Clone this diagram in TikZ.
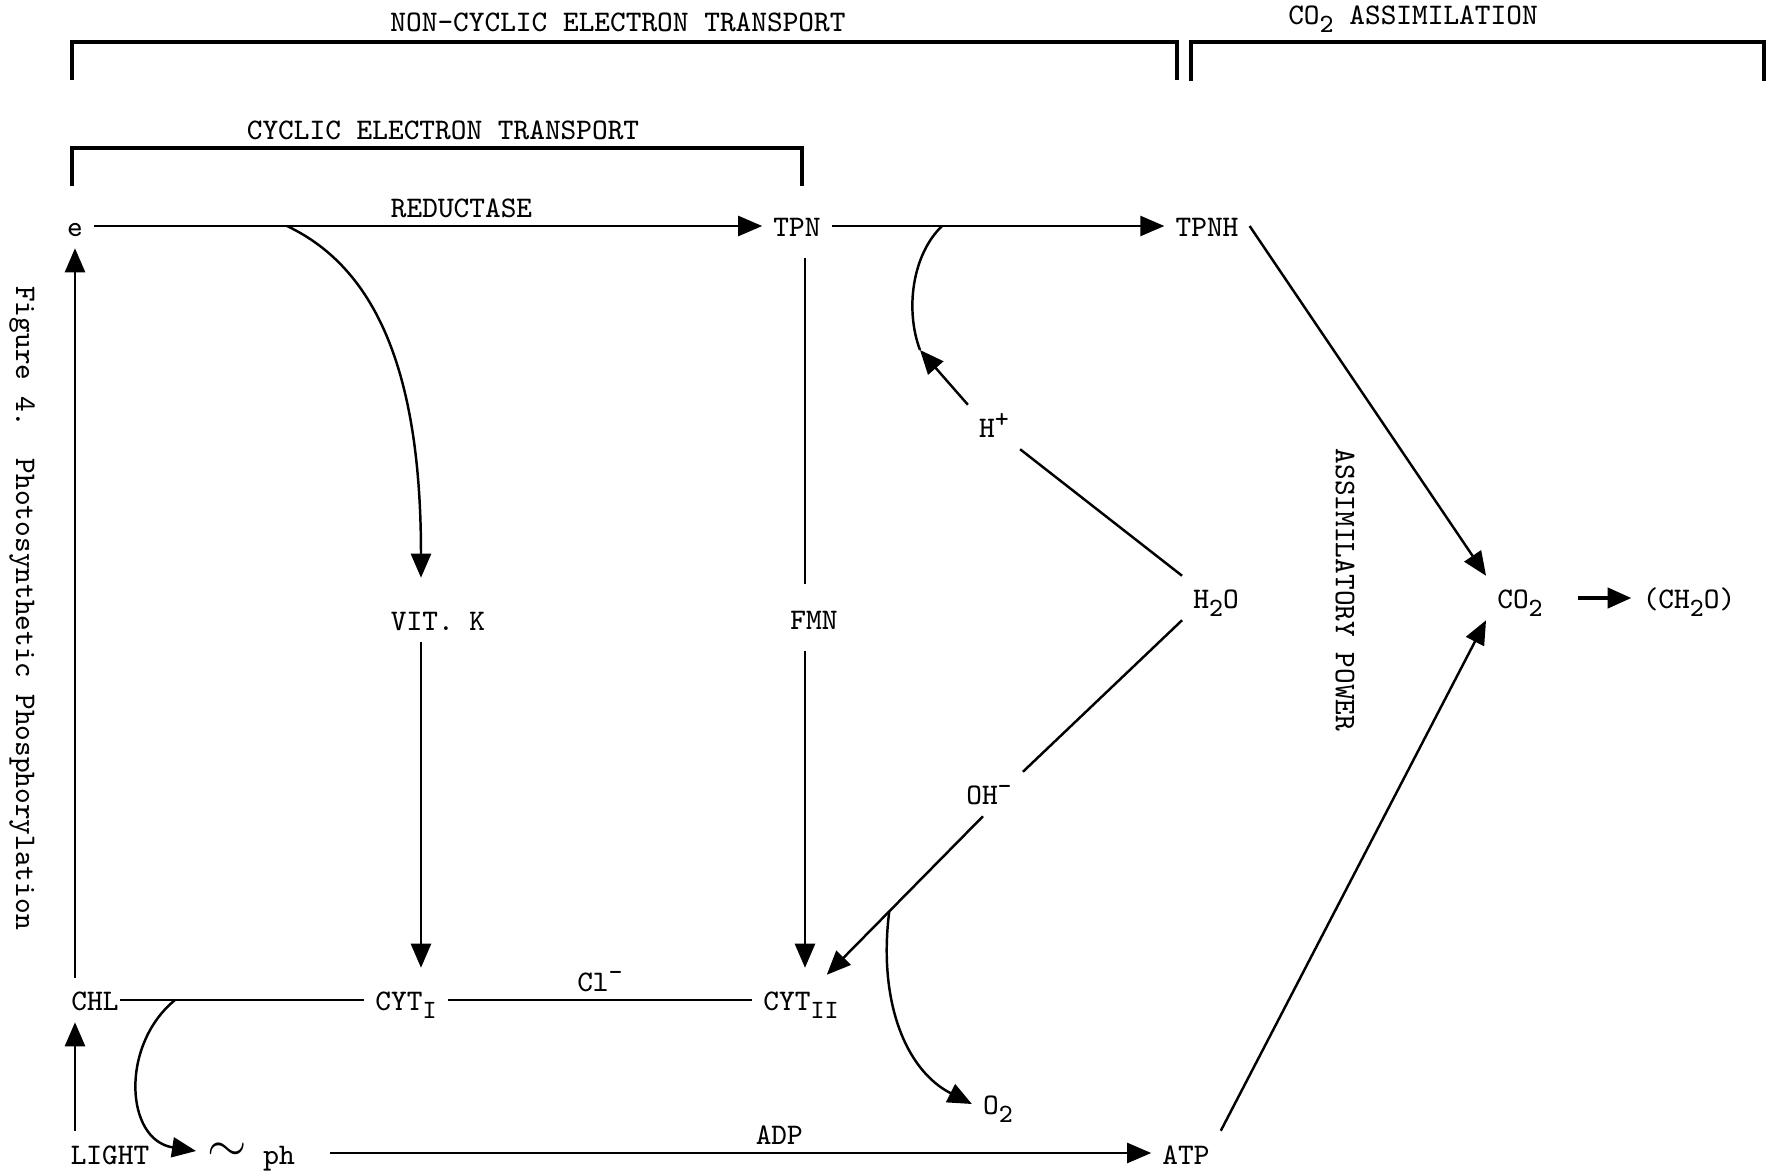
\documentclass[tikz,border=0pt]{standalone}
\usetikzlibrary{positioning, arrows.meta, calc}
\newcommand{\subx}[1]{\raisebox{-0.6ex}{\fontsize{7.5}{8}\selectfont#1}}
\newcommand{\supx}[1]{\raisebox{0.85ex}{\fontsize{7.5}{8}\selectfont#1}}

\begin{document}
\begin{tikzpicture}[
    x=0.01cm, y=-0.01cm,
    font=\ttfamily\fontsize{8.5}{10}\selectfont,
    chem/.style={inner sep=3pt, text height=1.45ex, text depth=0pt},
    note/.style={inner sep=2pt},
    arr/.style={-{Triangle[length=2.4mm, width=2mm]}, line width=0.7pt},
    link/.style={line width=0.7pt},
    bracket/.style={line width=0.9pt}
  ]
  \useasboundingbox (0,0) rectangle (1768,1175);
  % Brackets
  \draw[bracket] (72,80) -- (72,42) -- (1177,42) -- (1177,80);
  \draw[bracket] (1191,81) -- (1191,42) -- (1764,42) -- (1764,81);
  \draw[bracket] (72,186) -- (72,148) -- (802,148) -- (802,186);
  \node[note] (ncet) at (618,22) {NON-CYCLIC ELECTRON TRANSPORT};
  \node[note] (co2as) at (1413,19) {CO\subx{2} ASSIMILATION};
  \node[note] (cet) at (443,130) {CYCLIC ELECTRON TRANSPORT};
  % Side texts
  \node[note, rotate=-90] (apow) at (1345,590) {ASSIMILATORY POWER};
  \node[note, rotate=-90] (caption) at (22,608) {Figure 4.\ \ Photosynthetic Phosphorylation};
  % Substances
  \node[chem] (e) at (75,226) {e};
  \node[chem] (tpn) at (797,226) {TPN};
  \node[chem] (tpnh) at (1207,226) {TPNH};
  \node[chem] (vitk) at (438,620) {VIT. K};
  \node[chem] (fmn) at (814,619) {FMN};
  \node[chem] (hplus) at (994,427) {H\supx{+}};
  \node[chem] (water) at (1216,598) {H\subx{2}O};
  \node[chem] (oh) at (989,794) {OH\supx{-}};
  \node[chem] (co2) at (1520,598) {CO\subx{2}};
  \node[chem] (ch2o) at (1689,598) {(CH\subx{2}O)};
  \node[chem] (chl) at (95,1000) {CHL};
  \node[chem] (cyti) at (406,1000) {CYT\subx{I}};
  \node[chem] (cytii) at (801,1000) {CYT\subx{II}};
  \node[chem] (otwo) at (998,1104) {O\subx{2}};
  \node[chem] (light) at (110,1153) {LIGHT};
  \node[chem] (tilde) at (227,1151) {\Large$\sim$};
  \node[chem] (ph) at (279,1153) {ph};
  \node[chem] (atp) at (1186,1153) {ATP};
  % Upper line
  \draw[arr] (e) -- node[note, above, pos=0.55] (redu) {REDUCTASE} (tpn);
  \draw[arr] (tpn) -- (tpnh);
  \coordinate (jred) at (287,226);
  \coordinate (kx) at ([xshift=-1.7mm]vitk.south);
  \draw[arr, shorten >=2mm] (jred) .. controls (380,270) and (421,380) .. (kx |- vitk.north);
  \draw[arr, shorten >=1mm] (kx) -- (kx |- cyti.north);
  % TPN - FMN - CYT II
  \coordinate (fx) at ([xshift=-0.9mm]fmn.north);
  \draw[link, shorten <=1mm, shorten >=1.3mm] (fx |- tpn.south) -- (fx);
  \draw[arr, shorten <=1mm, shorten >=1mm] (fx |- fmn.south) -- (fx |- cytii.north);
  % Water splitting
  \coordinate (htip) at (920,350);
  \coordinate (jh) at (942,226);
  \draw[link] (jh) .. controls (912,255) and (905,310) .. (htip);
  \draw[arr] (hplus.north west) -- (htip);
  \draw[link] (water.north west) -- (hplus.south east);
  \draw[link] (water.south west) -- (oh.north east);
  \draw[arr] ([xshift=-0.6mm]oh.south) -- coordinate[pos=0.6] (jo) ([xshift=-2.3mm, yshift=0.3mm]cytii.north east);
  \draw[arr] (jo) .. controls (878,1000) and (905,1070) .. (otwo.west);
  % Assimilation
  \draw[arr] (tpnh.east) -- (co2.north west);
  \draw[arr] (atp.north east) -- (co2.south west);
  \draw[arr, line width=1.3pt, shorten <=2.4mm] (co2) -- (ch2o);
  % Lower line
  \draw[arr] (e |- chl.north) -- (e.south);
  \draw[arr] (e |- light.north) -- (e |- chl.south);
  \draw[link, shorten <=-1mm] (chl) -- (cyti);
  \draw[link] (cyti) -- node[note, above] (clm) {Cl\supx{-}} (cytii);
  \coordinate (jc) at (175,1000);
  \draw[arr] (jc) .. controls (120,1045) and (125,1140) .. (tilde.west);
  \draw[arr, shorten <=2.4mm] (ph) -- node[note, above, pos=0.56] (adp) {ADP} (atp);
\end{tikzpicture}
\end{document}
